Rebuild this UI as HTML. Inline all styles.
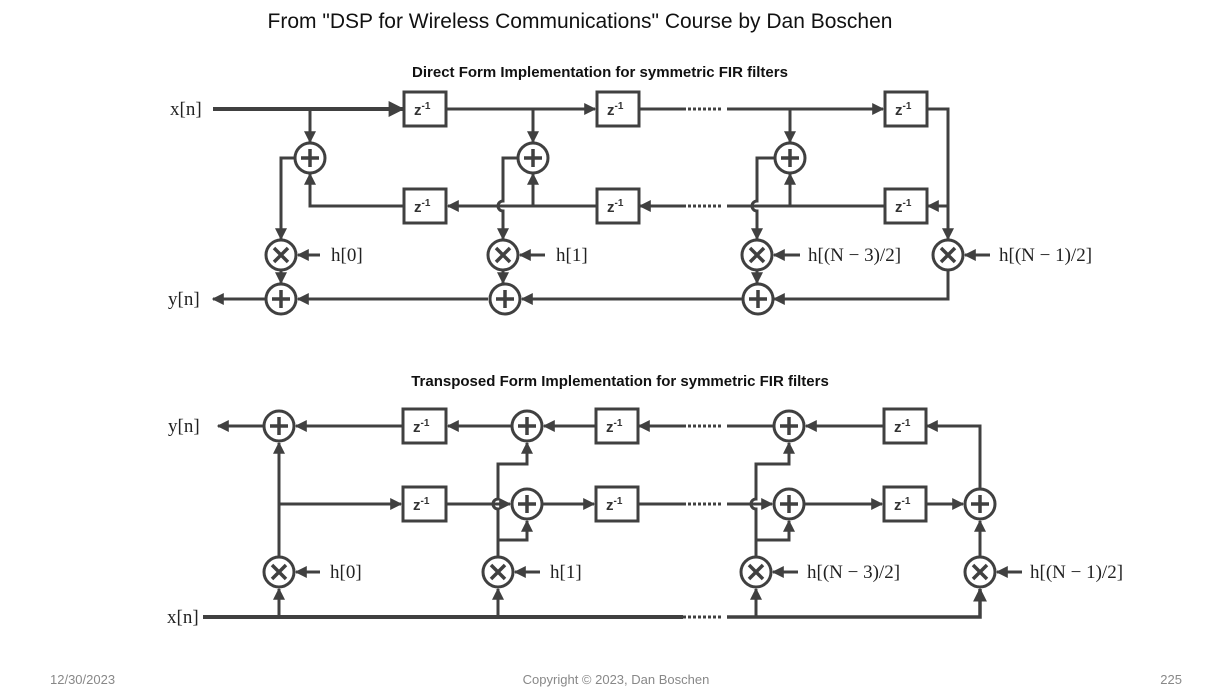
<!DOCTYPE html>
<html><head><meta charset="utf-8"><style>
html,body{margin:0;padding:0;background:#fff;}
svg{display:block;}
.t{font-family:"Liberation Serif",serif;font-size:19px;fill:#222;}
.z{font-family:"Liberation Sans",sans-serif;font-size:15px;font-weight:bold;fill:#333;}
.zs{font-size:10px;}
</style></head><body>
<svg width="1220" height="698" viewBox="0 0 1220 698" xmlns="http://www.w3.org/2000/svg">
<defs>
<marker id="a" viewBox="0 0 10 10" refX="9" refY="5" markerWidth="4" markerHeight="4" orient="auto" markerUnits="strokeWidth">
<path d="M0 0 L10 5 L0 10 z" fill="#404040"/></marker>
<g id="plus"><circle r="15" fill="#fff" stroke="#404040" stroke-width="3"/><path d="M-9 0H9M0 -9V9" stroke="#404040" stroke-width="3.5"/></g>
<g id="mul"><circle r="15" fill="#fff" stroke="#404040" stroke-width="3"/><path d="M-7 -7L7 7M7 -7L-7 7" stroke="#404040" stroke-width="3.5"/></g>
</defs>
<text x="580" y="28" text-anchor="middle" font-family="Liberation Sans, sans-serif" font-size="21" fill="#111">From "DSP for Wireless Communications" Course by Dan Boschen</text>
<text x="600" y="77" text-anchor="middle" font-family="Liberation Sans, sans-serif" font-size="15" font-weight="bold" fill="#111">Direct Form Implementation for symmetric FIR filters</text>
<text x="620" y="386" text-anchor="middle" font-family="Liberation Sans, sans-serif" font-size="15" font-weight="bold" fill="#111">Transposed Form Implementation for symmetric FIR filters</text>

<g fill="none" stroke="#404040" stroke-width="3">
<!-- TOP -->
<path d="M213 109H403" stroke-width="4" marker-end="url(#a)"/>
<path d="M310 109V142" marker-end="url(#a)"/>
<path d="M446 109H595" marker-end="url(#a)"/>
<path d="M533 109V142" marker-end="url(#a)"/>
<path d="M638 109H683"/>
<path d="M727 109H883" marker-end="url(#a)"/>
<path d="M790 109V142" marker-end="url(#a)"/>
<path d="M926 109H948V239" marker-end="url(#a)"/>
<path d="M948 206H928" marker-end="url(#a)"/>
<path d="M885 206H727"/>
<path d="M683 206H640" marker-end="url(#a)"/>
<path d="M597 206H448" marker-end="url(#a)"/>
<path d="M405 206H310V174" marker-end="url(#a)"/>
<path d="M533 206V174" marker-end="url(#a)"/>
<path d="M790 206V174" marker-end="url(#a)"/>
<path d="M295 158H281V239" marker-end="url(#a)"/>
<path d="M518 158H503V201A5 5 0 0 0 503 211V239" marker-end="url(#a)"/>
<path d="M775 158H757V201A5 5 0 0 0 757 211V239" marker-end="url(#a)"/>
<path d="M281 270V283" marker-end="url(#a)"/>
<path d="M503 270V283" marker-end="url(#a)"/>
<path d="M757 270V283" marker-end="url(#a)"/>
<path d="M320 255H298" marker-end="url(#a)"/>
<path d="M545 255H520" marker-end="url(#a)"/>
<path d="M800 255H774" marker-end="url(#a)"/>
<path d="M990 255H965" marker-end="url(#a)"/>
<path d="M948 270V299H774" marker-end="url(#a)"/>
<path d="M742 299H522" marker-end="url(#a)"/>
<path d="M488 299H298" marker-end="url(#a)"/>
<path d="M266 299H213" marker-end="url(#a)"/>
<path d="M683 109H723M683 206H723M683 426H723M683 504H723M683 617H723" stroke-dasharray="3 2"/>
<!-- BOTTOM -->
<path d="M264 426H218" marker-end="url(#a)"/>
<path d="M403 426H296" marker-end="url(#a)"/>
<path d="M512 426H448" marker-end="url(#a)"/>
<path d="M596 426H544" marker-end="url(#a)"/>
<path d="M683 426H639" marker-end="url(#a)"/>
<path d="M774 426H727"/>
<path d="M884 426H806" marker-end="url(#a)"/>
<path d="M980 489V426H927" marker-end="url(#a)"/>
<path d="M279 557V443" marker-end="url(#a)"/>
<path d="M279 504H401" marker-end="url(#a)"/>
<path d="M446 504H510" marker-end="url(#a)"/>
<path d="M542 504H594" marker-end="url(#a)"/>
<path d="M637 504H683"/>
<path d="M727 504H772" marker-end="url(#a)"/>
<path d="M804 504H882" marker-end="url(#a)"/>
<path d="M925 504H963" marker-end="url(#a)"/>
<path d="M498 557V509A5 5 0 0 1 498 499V464H527V443" marker-end="url(#a)"/>
<path d="M498 540H527V521" marker-end="url(#a)"/>
<path d="M756 557V509A5 5 0 0 1 756 499V464H789V443" marker-end="url(#a)"/>
<path d="M756 540H789V521" marker-end="url(#a)"/>
<path d="M980 557V521" marker-end="url(#a)"/>
<path d="M203 617H683" stroke-width="4"/>
<path d="M727 617H980V589" stroke-width="3.5" marker-end="url(#a)"/>
<path d="M279 617V589" marker-end="url(#a)"/>
<path d="M498 617V589" marker-end="url(#a)"/>
<path d="M756 617V589" marker-end="url(#a)"/>
<path d="M320 572H296" marker-end="url(#a)"/>
<path d="M540 572H515" marker-end="url(#a)"/>
<path d="M798 572H773" marker-end="url(#a)"/>
<path d="M1022 572H997" marker-end="url(#a)"/>
<!-- boxes -->
<g fill="#fff">
<rect x="404" y="92" width="42" height="34"/><rect x="597" y="92" width="42" height="34"/><rect x="885" y="92" width="42" height="34"/>
<rect x="404" y="189" width="42" height="34"/><rect x="597" y="189" width="42" height="34"/><rect x="885" y="189" width="42" height="34"/>
<rect x="403" y="409" width="43" height="34"/><rect x="596" y="409" width="42" height="34"/><rect x="884" y="409" width="42" height="34"/>
<rect x="403" y="487" width="43" height="34"/><rect x="596" y="487" width="42" height="34"/><rect x="884" y="487" width="42" height="34"/>
</g>
</g>
<g class="z">
<text x="414" y="115">z<tspan class="zs" dy="-6">-1</tspan></text>
<text x="607" y="115">z<tspan class="zs" dy="-6">-1</tspan></text>
<text x="895" y="115">z<tspan class="zs" dy="-6">-1</tspan></text>
<text x="414" y="212">z<tspan class="zs" dy="-6">-1</tspan></text>
<text x="607" y="212">z<tspan class="zs" dy="-6">-1</tspan></text>
<text x="895" y="212">z<tspan class="zs" dy="-6">-1</tspan></text>
<text x="413" y="432">z<tspan class="zs" dy="-6">-1</tspan></text>
<text x="606" y="432">z<tspan class="zs" dy="-6">-1</tspan></text>
<text x="894" y="432">z<tspan class="zs" dy="-6">-1</tspan></text>
<text x="413" y="510">z<tspan class="zs" dy="-6">-1</tspan></text>
<text x="606" y="510">z<tspan class="zs" dy="-6">-1</tspan></text>
<text x="894" y="510">z<tspan class="zs" dy="-6">-1</tspan></text>
</g>
<use href="#plus" x="310" y="158"/><use href="#plus" x="533" y="158"/><use href="#plus" x="790" y="158"/>
<use href="#mul" x="281" y="255"/><use href="#mul" x="503" y="255"/><use href="#mul" x="757" y="255"/><use href="#mul" x="948" y="255"/>
<use href="#plus" x="281" y="299"/><use href="#plus" x="505" y="299"/><use href="#plus" x="758" y="299"/>
<use href="#plus" x="279" y="426"/><use href="#plus" x="527" y="426"/><use href="#plus" x="789" y="426"/>
<use href="#plus" x="527" y="504"/><use href="#plus" x="789" y="504"/><use href="#plus" x="980" y="504"/>
<use href="#mul" x="279" y="572"/><use href="#mul" x="498" y="572"/><use href="#mul" x="756" y="572"/><use href="#mul" x="980" y="572"/>
<g class="t">
<text x="170" y="115">x[n]</text>
<text x="168" y="305">y[n]</text>
<text x="331" y="261">h[0]</text>
<text x="556" y="261">h[1]</text>
<text x="808" y="261">h[(N − 3)/2]</text>
<text x="999" y="261">h[(N − 1)/2]</text>
<text x="168" y="432">y[n]</text>
<text x="167" y="623">x[n]</text>
<text x="330" y="578">h[0]</text>
<text x="550" y="578">h[1]</text>
<text x="807" y="578">h[(N − 3)/2]</text>
<text x="1030" y="578">h[(N − 1)/2]</text>
</g>
<g font-family="Liberation Sans, sans-serif" font-size="13" fill="#888">
<text x="50" y="684">12/30/2023</text>
<text x="616" y="684" text-anchor="middle">Copyright © 2023, Dan Boschen</text>
<text x="1182" y="684" text-anchor="end">225</text>
</g>
</svg>
</body></html>
